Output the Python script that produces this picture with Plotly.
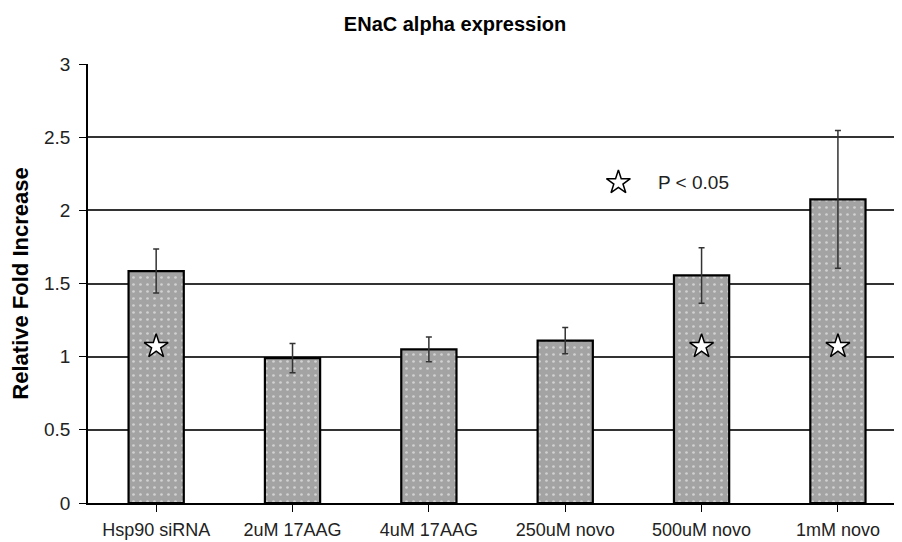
import plotly.graph_objects as go

categories = ["Hsp90 siRNA", "2uM 17AAG", "4uM 17AAG", "250uM novo", "500uM novo", "1mM novo"]
fold_increase = [1.585, 0.99, 1.05, 1.11, 1.555, 2.075]
error_sd = [0.15, 0.10, 0.085, 0.09, 0.19, 0.47]
significant = [True, False, False, False, True, True]
star_level = 1.07
legend_star_pos = (3.39, 2.19)
y_ticks = [0, 0.5, 1, 1.5, 2, 2.5, 3]
y_tick_labels = ["0", "0.5", "1", "1.5", "2", "2.5", "3"]
title_text = "ENaC alpha expression"
y_title = "Relative Fold Increase"
legend_label = "P < 0.05"

FONT = "Liberation Sans, Arial, sans-serif"
# page body adds an 8px margin; the figure is sized to compensate
W, H = 894, 534

fig = go.Figure()
fig.add_trace(go.Bar(
    x=list(range(len(categories))),
    y=fold_increase,
    width=0.405,
    marker=dict(
        color="#a3a3a3",
        line=dict(color="black", width=2.2),
        pattern=dict(shape=".", fgcolor="white", bgcolor="#a3a3a3", size=7, solidity=0.12),
    ),
    error_y=dict(type="data", array=error_sd, visible=True, color="#333333", thickness=1.5, width=3),
    showlegend=False,
    hoverinfo="skip",
))

sig_x = [i for i, s in enumerate(significant) if s]
star_style = dict(symbol="star", size=18, color="white", line=dict(color="black", width=1.5))
fig.add_trace(go.Scatter(
    x=sig_x, y=[star_level] * len(sig_x),
    mode="markers", marker=star_style, showlegend=False, hoverinfo="skip",
))
fig.add_trace(go.Scatter(
    x=[legend_star_pos[0]], y=[legend_star_pos[1]],
    mode="markers", marker=star_style, showlegend=False, hoverinfo="skip",
))
fig.add_annotation(
    x=legend_star_pos[0], y=legend_star_pos[1], xref="x", yref="y",
    text=legend_label, showarrow=False, xanchor="left", yanchor="middle", xshift=38,
    font=dict(family=FONT, size=19, color="#222"),
)

fig.update_layout(
    width=W, height=H,
    margin=dict(l=80, r=0, t=56, b=39, autoexpand=False),
    paper_bgcolor="white", plot_bgcolor="white",
    title=dict(text=title_text, x=0.5, xanchor="center", xref="container",
               y=1 - 16 / H, yanchor="middle",
               font=dict(family="Liberation Sans, Arial", size=20, color="black", weight="bold")),
    font=dict(family=FONT, color="black"),
    xaxis=dict(
        range=[-0.5, 5.47],
        tickmode="array", tickvals=list(range(len(categories))), ticktext=categories,
        tickson="boundaries", ticks="outside", ticklen=7, tickcolor="black",
        ticklabelstandoff=3,
        showline=True, linecolor="black", linewidth=1.5,
        showgrid=False, zeroline=False,
        tickfont=dict(family=FONT, size=18, color="#222"),
    ),
    yaxis=dict(
        range=[0, 3],
        tickmode="array", tickvals=y_ticks, ticktext=y_tick_labels,
        ticks="outside", ticklen=7, tickcolor="black",
        ticklabelstandoff=5,
        showline=True, linecolor="black", linewidth=1.5,
        showgrid=True, gridcolor="#333333", gridwidth=1.6,
        zeroline=False,
        tickfont=dict(family=FONT, size=19, color="#222"),
        title=dict(text=y_title, standoff=16,
                   font=dict(family=FONT, size=22, color="black", weight="bold")),
    ),
)

fig.write_html("out.html")
